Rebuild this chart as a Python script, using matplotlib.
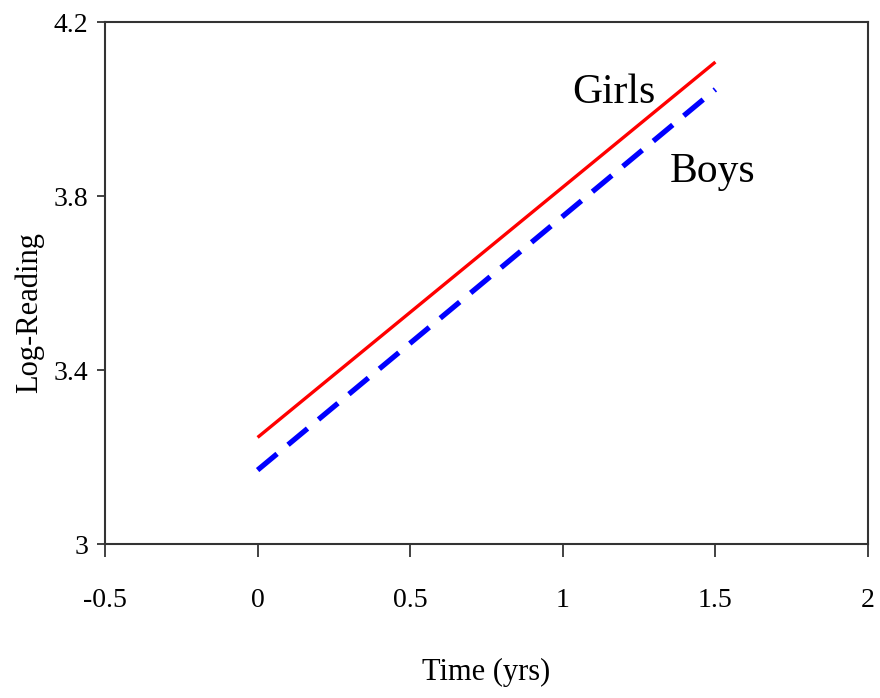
import matplotlib
matplotlib.use("Agg")
import matplotlib.pyplot as plt

# Data
time_yrs = [0.0, 1.5]
girls = [3.245, 4.108]
boys = [3.170, 4.045]
xticks = [-0.5, 0, 0.5, 1, 1.5, 2]
xticklabels = ["-0.5", "0", "0.5", "1", "1.5", "2"]
yticks = [3.0, 3.4, 3.8, 4.2]
yticklabels = ["3", "3.4", "3.8", "4.2"]

plt.rcParams['font.family'] = ['Liberation Serif', 'DejaVu Serif']

fig = plt.figure(figsize=(8.8, 6.98), dpi=100)
ax = fig.add_axes([105/880, 1-544/698, (868-105)/880, (544-22)/698])

ax.plot(time_yrs, girls, color='#ff0000', lw=2.4, solid_capstyle='butt')
ax.plot(time_yrs, boys, color='#0000ff', lw=3.8, dashes=(4.8, 2.7))

ax.set_xlim(-0.5, 2)
ax.set_ylim(3.0, 4.2)
ax.set_xticks(xticks)
ax.set_xticklabels(xticklabels, fontsize=20)
ax.set_yticks(yticks)
ax.set_yticklabels(yticklabels, fontsize=20)
ax.tick_params(axis='x', direction='out', length=9.5, width=1.2, pad=22, colors='#222222', labelcolor='black')
ax.tick_params(axis='y', direction='out', length=6, width=1.2, pad=6, colors='#222222', labelcolor='black')
for s in ax.spines.values():
    s.set_linewidth(1.5)
    s.set_color('#333333')

ax.set_xlabel("Time (yrs)", fontsize=22)
ax.xaxis.set_label_coords(0.5, -0.218)
ax.set_ylabel("Log-Reading", fontsize=22)
ax.yaxis.set_label_coords(-0.080, 0.444)

ax.text(1.032, 4.014, "Girls", fontsize=30, ha='left', va='baseline')
ax.text(1.351, 3.832, "Boys", fontsize=30, ha='left', va='baseline')

fig.savefig("out.png", dpi=100, facecolor='white')
